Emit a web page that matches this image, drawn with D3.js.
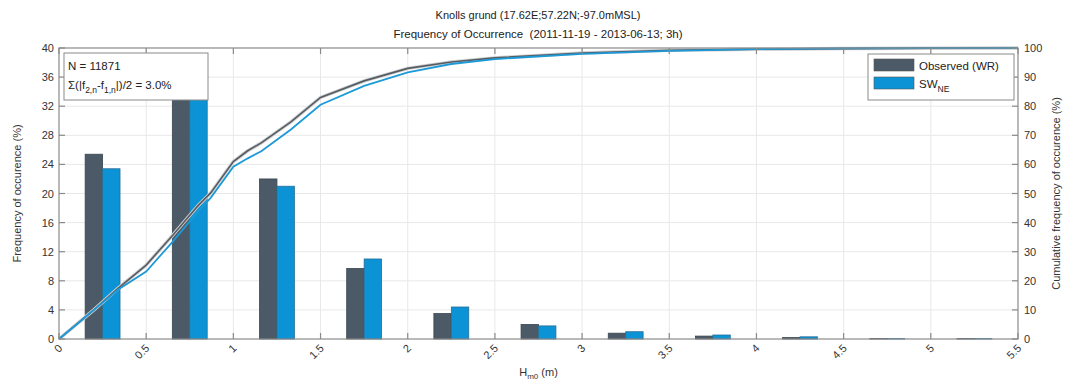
<!DOCTYPE html>
<html>
<head>
<meta charset="utf-8">
<script src="https://cdn.jsdelivr.net/npm/d3@7"></script>
<style>
  body { margin: 0; background: #fff; }
  svg { font-family: "Liberation Sans", Arial, sans-serif; }
</style>
</head>
<body>
<svg id="chart" width="1065" height="383"></svg>
<script>
// bin centres (m) and frequencies (%)
var binCenters = [0.25, 0.75, 1.25, 1.75, 2.25, 2.75, 3.25, 3.75, 4.25, 4.75, 5.25];
var observed = [25.4, 35.3, 22.0, 9.7, 3.5, 2.0, 0.8, 0.4, 0.2, 0.05, 0.05];
var swNE = [23.4, 35.8, 21.0, 11.0, 4.4, 1.8, 1.0, 0.55, 0.3, 0.05, 0.05];

// cumulative curves (x in m, %)
var cumObsX = [0, 0.1, 0.2, 0.34, 0.5, 0.65, 0.8, 0.87, 1.0, 1.08, 1.16, 1.33, 1.5, 1.75, 2.0, 2.25, 2.5, 3.0, 3.5, 4.0, 4.5, 5.0, 5.5];
var cumObs = [0, 5, 10, 17.5, 25.4, 35.5, 46, 50.2, 61, 64.6, 67.4, 74.6, 83, 88.7, 93, 95.2, 96.6, 98.3, 99.2, 99.6, 99.8, 99.95, 100];
var cumSwX = [0, 0.1, 0.2, 0.34, 0.5, 0.65, 0.8, 0.87, 1.0, 1.08, 1.16, 1.33, 1.5, 1.75, 2.0, 2.25, 2.5, 3.0, 3.5, 4.0, 4.5, 5.0, 5.5];
var cumSw = [0, 5, 10, 17, 23.2, 33.3, 44, 48.5, 59.2, 62, 64.5, 72, 80.5, 87, 91.6, 94.5, 96.2, 98.0, 99.0, 99.6, 99.85, 99.95, 100];

var xTicks = [0, 0.5, 1, 1.5, 2, 2.5, 3, 3.5, 4, 4.5, 5, 5.5];
var yTicks = [0, 4, 8, 12, 16, 20, 24, 28, 32, 36, 40];
var y2Ticks = [0, 10, 20, 30, 40, 50, 60, 70, 80, 90, 100];

var darkCol = '#4b5a66', blueCol = '#0b93d6';
var margin = { left: 59, right: 47, top: 48, bottom: 44 };
var W = 1065, H = 383;
var svg = d3.select('#chart');

var x = d3.scaleLinear().domain([0, 5.5]).range([margin.left, W - margin.right]);
var y = d3.scaleLinear().domain([0, 40]).range([H - margin.bottom, margin.top]);
var y2 = d3.scaleLinear().domain([0, 100]).range([H - margin.bottom, margin.top]);
var bw = 0.1; // bar width in m

// grid
var grid = svg.append('g').attr('stroke', '#e8e8e8').attr('stroke-width', 1);
grid.selectAll('line.gx').data(xTicks.slice(1, -1)).enter().append('line')
    .attr('x1', function(d) { return x(d); }).attr('x2', function(d) { return x(d); })
    .attr('y1', y(0)).attr('y2', y(40));
grid.selectAll('line.gy').data(yTicks.slice(1, -1)).enter().append('line')
    .attr('x1', x(0)).attr('x2', x(5.5))
    .attr('y1', function(d) { return y(d); }).attr('y2', function(d) { return y(d); });

// bars
svg.append('g').selectAll('rect').data(observed).enter().append('rect')
    .attr('x', function(d, i) { return x(binCenters[i] - bw); })
    .attr('width', function(d, i) { return x(bw) - x(0); })
    .attr('y', function(d) { return y(d); })
    .attr('height', function(d) { return y(0) - y(d); })
    .attr('fill', darkCol).attr('stroke', '#3a4650').attr('stroke-width', 0.8);
svg.append('g').selectAll('rect').data(swNE).enter().append('rect')
    .attr('x', function(d, i) { return x(binCenters[i]); })
    .attr('width', function(d, i) { return x(bw) - x(0); })
    .attr('y', function(d) { return y(d); })
    .attr('height', function(d) { return y(0) - y(d); })
    .attr('fill', blueCol).attr('stroke', '#2a6f96').attr('stroke-width', 0.8);

// cumulative lines
var line = d3.line().x(function(d) { return x(d[0]); }).y(function(d) { return y2(d[1]); });
var obsPts = cumObsX.map(function(v, i) { return [v, cumObs[i]]; });
var swPts = cumSwX.map(function(v, i) { return [v, cumSw[i]]; });
svg.append('path').attr('d', line(obsPts)).attr('fill', 'none').attr('stroke', '#d0d0d0').attr('stroke-width', 3.5);
svg.append('path').attr('d', line(obsPts)).attr('fill', 'none').attr('stroke', '#555c63').attr('stroke-width', 1.6);
svg.append('path').attr('d', line(swPts)).attr('fill', 'none').attr('stroke', '#1c9ad8').attr('stroke-width', 1.8);

// axes box
var axCol = '#8a8a8a';
var ax = svg.append('g').attr('stroke', axCol).attr('stroke-width', 1.2).attr('fill', 'none');
ax.append('rect').attr('x', x(0)).attr('y', y(40)).attr('width', x(5.5) - x(0)).attr('height', y(0) - y(40));
ax.selectAll('line.tb').data(xTicks).enter().append('line')
    .attr('x1', function(d) { return x(d); }).attr('x2', function(d) { return x(d); })
    .attr('y1', y(0)).attr('y2', y(0) - 6);
ax.selectAll('line.tt').data(xTicks).enter().append('line')
    .attr('x1', function(d) { return x(d); }).attr('x2', function(d) { return x(d); })
    .attr('y1', y(40)).attr('y2', y(40) + 6);
ax.selectAll('line.tl').data(yTicks).enter().append('line')
    .attr('x1', x(0)).attr('x2', x(0) + 6)
    .attr('y1', function(d) { return y(d); }).attr('y2', function(d) { return y(d); });
ax.selectAll('line.tr').data(y2Ticks).enter().append('line')
    .attr('x1', x(5.5)).attr('x2', x(5.5) - 6)
    .attr('y1', function(d) { return y2(d); }).attr('y2', function(d) { return y2(d); });

// tick labels
var lab = svg.append('g').attr('font-size', 11).attr('fill', '#333');
lab.selectAll('text.yl').data(yTicks).enter().append('text')
    .attr('x', x(0) - 5).attr('y', function(d) { return y(d) + 4; })
    .attr('text-anchor', 'end').text(function(d) { return d; });
lab.selectAll('text.yr').data(y2Ticks).enter().append('text')
    .attr('x', x(5.5) + 6).attr('y', function(d) { return y2(d) + 4; })
    .attr('text-anchor', 'start').text(function(d) { return d; });
lab.selectAll('text.xl').data(xTicks).enter().append('text')
    .attr('text-anchor', 'end')
    .attr('transform', function(d) { return 'translate(' + (x(d) + 4) + ',' + (y(0) + 10) + ') rotate(-45)'; })
    .text(function(d) { return d; });

// axis titles
svg.append('text').attr('font-size', 11).attr('fill', '#333').attr('text-anchor', 'middle')
    .attr('transform', 'translate(21,' + (y(20)) + ') rotate(-90)')
    .text('Frequency of occurence (%)');
svg.append('text').attr('font-size', 11).attr('fill', '#333').attr('text-anchor', 'middle')
    .attr('transform', 'translate(1060,' + (y(20)) + ') rotate(-90)')
    .text('Cumulative frequency of occurence (%)');
var xt = svg.append('text').attr('font-size', 11).attr('fill', '#333').attr('text-anchor', 'middle')
    .attr('x', x(2.75)).attr('y', 376);
xt.append('tspan').text('H');
xt.append('tspan').attr('font-size', 8).attr('dy', 3).text('m0');
xt.append('tspan').attr('dy', -3).text(' (m)');

// title
svg.append('text').attr('x', 538).attr('y', 19).attr('text-anchor', 'middle')
    .attr('font-size', 11).attr('fill', '#222').text('Knolls grund (17.62E;57.22N;-97.0mMSL)');
svg.append('text').attr('x', 538).attr('y', 38).attr('text-anchor', 'middle')
    .attr('font-size', 11.5).attr('fill', '#222').attr('xml:space', 'preserve')
    .text('Frequency of Occurrence  (2011-11-19 - 2013-06-13; 3h)');

// annotation box
svg.append('rect').attr('x', 64).attr('y', 53).attr('width', 144).attr('height', 47)
    .attr('fill', '#fff').attr('stroke', '#8a8a8a').attr('stroke-width', 1);
var ann = svg.append('g').attr('font-size', 11.5).attr('fill', '#222');
ann.append('text').attr('x', 68).attr('y', 70).text('N = 11871');
var t2 = ann.append('text').attr('x', 68).attr('y', 89);
t2.append('tspan').text('\u03A3(|f');
t2.append('tspan').attr('font-size', 8.5).attr('dy', 4).text('2,n');
t2.append('tspan').attr('dy', -4).text('-f');
t2.append('tspan').attr('font-size', 8.5).attr('dy', 4).text('1,n');
t2.append('tspan').attr('dy', -4).text('|)/2 = 3.0%');

// legend
var lg = svg.append('g');
lg.append('rect').attr('x', 868).attr('y', 54).attr('width', 146).attr('height', 46)
    .attr('fill', '#fff').attr('stroke', '#8a8a8a').attr('stroke-width', 1);
var legendItems = [{ name: 'Observed (WR)', col: darkCol }, { name: 'SW', sub: 'NE', col: blueCol }];
legendItems.forEach(function(it, i) {
  lg.append('rect').attr('x', 874).attr('y', 59 + i * 18).attr('width', 40).attr('height', 12)
      .attr('fill', it.col).attr('stroke', '#555').attr('stroke-width', 0.6);
  var t = lg.append('text').attr('x', 919).attr('y', 70 + i * 18).attr('font-size', 11.5).attr('fill', '#222');
  t.append('tspan').text(it.name);
  if (it.sub) t.append('tspan').attr('font-size', 8.5).attr('dy', 4).text(it.sub);
});
</script>
</body>
</html>
